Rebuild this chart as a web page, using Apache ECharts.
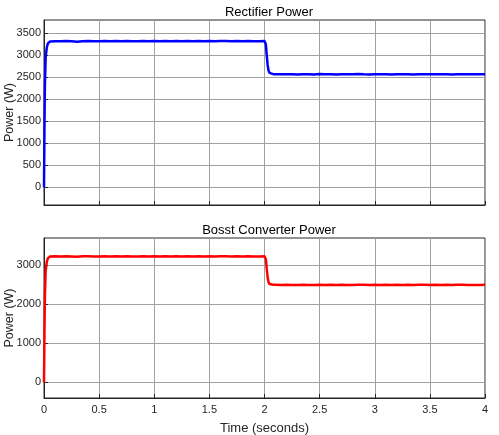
<!DOCTYPE html>
<html>
<head>
<meta charset="utf-8">
<script src="https://cdn.jsdelivr.net/npm/echarts@6/dist/echarts.min.js"></script>
<style>
  html, body { margin: 0; padding: 0; background: #fff; }
  #main { width: 499px; height: 435px; }
</style>
</head>
<body>
<div id="main"></div>
<script>
// sample times (s), shared by both traces
var times = [0, 0.004, 0.008, 0.015, 0.025, 0.035, 0.045, 0.055, 0.07,
  0.1, 0.15, 0.2, 0.25, 0.3, 0.35, 0.4, 0.45, 0.5, 0.55, 0.6, 0.65, 0.7, 0.75, 0.8, 0.85, 0.9, 0.95,
  1.0, 1.05, 1.1, 1.15, 1.2, 1.25, 1.3, 1.35, 1.4, 1.45, 1.5, 1.55, 1.6, 1.65, 1.7, 1.75, 1.8, 1.85, 1.9, 1.95, 2.0,
  2.012, 2.02, 2.028, 2.036, 2.045, 2.06, 2.08,
  2.1, 2.15, 2.2, 2.25, 2.3, 2.35, 2.4, 2.45, 2.5, 2.55, 2.6, 2.65, 2.7, 2.75, 2.8, 2.85, 2.9, 2.95,
  3.0, 3.05, 3.1, 3.15, 3.2, 3.25, 3.3, 3.35, 3.4, 3.45, 3.5, 3.55, 3.6, 3.65, 3.7, 3.75, 3.8, 3.85, 3.9, 3.95, 4.0];

// Rectifier power (W)
var rectPower = [0, 1300, 2300, 2950, 3170, 3270, 3300, 3312, 3318,
  3320, 3316, 3324, 3318, 3305, 3320, 3326, 3320, 3317, 3323, 3318, 3321, 3316, 3324, 3320, 3318, 3322, 3319,
  3323, 3318, 3321, 3315, 3322, 3320, 3325, 3317, 3321, 3319, 3322, 3316, 3321, 3324, 3318, 3321, 3317, 3323, 3320, 3318, 3321,
  3250, 3010, 2790, 2660, 2600, 2578, 2570,
  2570, 2566, 2571, 2567, 2563, 2570, 2568, 2565, 2572, 2567, 2569, 2564, 2570, 2567, 2566, 2572, 2568, 2565,
  2569, 2566, 2571, 2565, 2569, 2567, 2570, 2564, 2568, 2571, 2566, 2569, 2567, 2570, 2565, 2568, 2569, 2566, 2566, 2567, 2568];

// Boost converter power (W)
var boostPower = [0, 1200, 2200, 2850, 3080, 3180, 3212, 3224, 3230,
  3230, 3226, 3234, 3228, 3220, 3230, 3234, 3228, 3226, 3233, 3228, 3231, 3225, 3233, 3229, 3227, 3232, 3228,
  3233, 3228, 3230, 3225, 3232, 3229, 3234, 3226, 3230, 3228, 3232, 3225, 3230, 3233, 3227, 3230, 3226, 3232, 3229, 3227, 3230,
  3160, 2920, 2700, 2575, 2522, 2505, 2500,
  2500, 2496, 2502, 2497, 2493, 2501, 2498, 2495, 2503, 2497, 2500, 2494, 2501, 2498, 2496, 2503, 2499, 2495,
  2500, 2497, 2502, 2495, 2500, 2498, 2501, 2494, 2499, 2502, 2496, 2500, 2497, 2501, 2495, 2499, 2500, 2497, 2496, 2498, 2499];

var topTicks = [0, 500, 1000, 1500, 2000, 2500, 3000, 3500];
var bottomTicks = [0, 1000, 2000, 3000];

function pairs(vals) {
  return times.map(function (t, i) { return [t, vals[i]]; });
}

var myChart = echarts.init(document.getElementById('main'));

var font = 'Liberation Sans, Arial, sans-serif';
var gridLine = { show: true, lineStyle: { color: '#a0a0a0', width: 1 } };

function xAxis(gridIndex, showLabels) {
  return {
    type: 'value', gridIndex: gridIndex, min: 0, max: 4, interval: 0.5,
    name: showLabels ? 'Time (seconds)' : '',
    nameLocation: 'middle', nameGap: 24, nameMoveOverlap: false,
    nameTextStyle: { fontFamily: font, color: '#262626', fontSize: 13 },
    axisLine: { show: true, onZero: false, lineStyle: { color: '#262626' } },
    axisTick: { show: true, inside: true, length: 4, lineStyle: { color: '#262626' } },
    axisLabel: { show: showLabels, fontFamily: font, color: '#262626', fontSize: 11, margin: 6,
      formatter: function (v) { return String(v); } },
    splitLine: gridLine
  };
}

function yAxis(gridIndex, min, max, ticks) {
  return {
    type: 'value', gridIndex: gridIndex, min: min, max: max,
    name: 'Power (W)', nameLocation: 'middle', nameGap: 28, nameMoveOverlap: false,
    nameTextStyle: { fontFamily: font, color: '#262626', fontSize: 12.5 },
    axisLine: { show: true, onZero: false, lineStyle: { color: '#262626' } },
    axisTick: { show: true, inside: true, length: 4, customValues: ticks, lineStyle: { color: '#262626' } },
    axisLabel: { fontFamily: font, color: '#262626', fontSize: 11, margin: 3, customValues: ticks,
      formatter: function (v) { return String(v); } },
    splitLine: gridLine
  };
}

var option = {
  animation: false,
  title: [
    { text: 'Rectifier Power', left: 264, top: 1, textAlign: 'center',
      textStyle: { fontFamily: font, color: '#000', fontSize: 13, fontWeight: 'normal' } },
    { text: 'Bosst Converter Power', left: 264, top: 219, textAlign: 'center',
      textStyle: { fontFamily: font, color: '#000', fontSize: 13, fontWeight: 'normal' } }
  ],
  grid: [
    { left: 44, top: 20, width: 441, height: 185, show: true, borderColor: '#262626', borderWidth: 1,
      containLabel: false, outerBoundsMode: 'none' },
    { left: 44, top: 238, width: 441, height: 160, show: true, borderColor: '#262626', borderWidth: 1,
      containLabel: false, outerBoundsMode: 'none' }
  ],
  xAxis: [xAxis(0, false), xAxis(1, true)],
  yAxis: [yAxis(0, -400, 3800, topTicks), yAxis(1, -400, 3700, bottomTicks)],
  series: [
    { name: 'Rectifier Power', type: 'line', xAxisIndex: 0, yAxisIndex: 0, showSymbol: false,
      lineStyle: { color: '#0000ff', width: 2.5 }, data: pairs(rectPower) },
    { name: 'Boost Converter Power', type: 'line', xAxisIndex: 1, yAxisIndex: 1, showSymbol: false,
      lineStyle: { color: '#ff0000', width: 2.5 }, data: pairs(boostPower) }
  ]
};

myChart.setOption(option);
</script>
</body>
</html>
